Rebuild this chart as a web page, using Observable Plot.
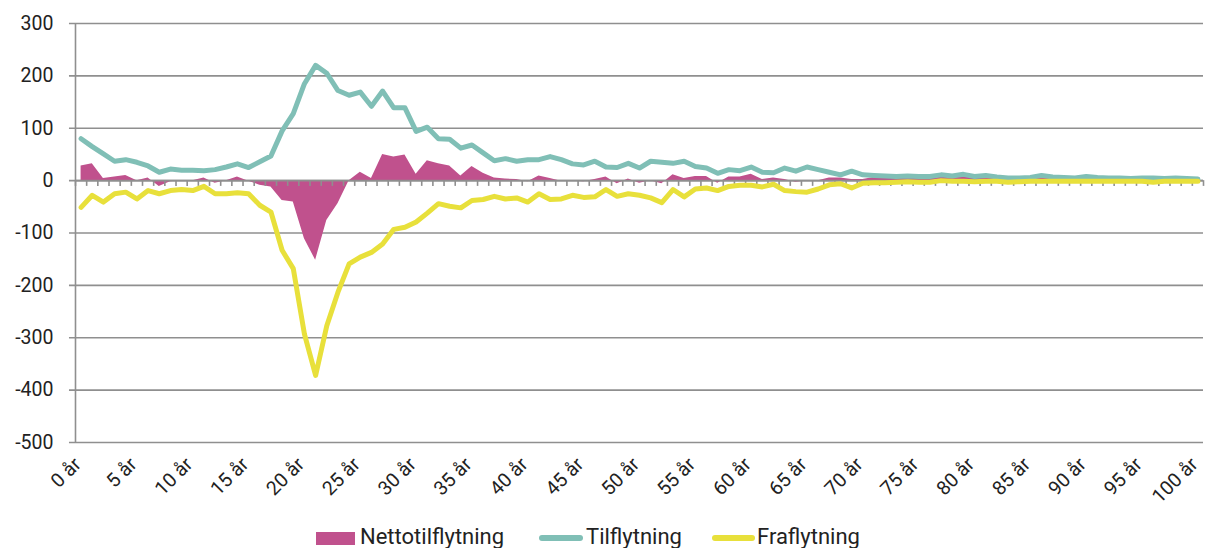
<!DOCTYPE html>
<html>
<head>
<meta charset="utf-8">
<script src="https://cdn.jsdelivr.net/npm/d3@7"></script>
<script src="https://cdn.jsdelivr.net/npm/@observablehq/plot@0.6"></script>
<style>
  html, body { margin: 0; padding: 0; background: white; }
  #wrap { position: relative; width: 1205px; height: 548px; overflow: hidden; font-family: Roboto, sans-serif; color: #222; }
  .lg { position: absolute; font-size: 22px; line-height: 22px; white-space: nowrap; }
  .sw { position: absolute; }
</style>
</head>
<body>
<div id="wrap"></div>
<script>
// Ages (categories)
const ages = [0,1,2,3,4,5,6,7,8,9,10,11,12,13,14,15,16,17,18,19,20,21,22,23,24,25,26,27,28,29,30,31,32,33,34,35,36,37,38,39,40,41,42,43,44,45,46,47,48,49,50,51,52,53,54,55,56,57,58,59,60,61,62,63,64,65,66,67,68,69,70,71,72,73,74,75,76,77,78,79,80,81,82,83,84,85,86,87,88,89,90,91,92,93,94,95,96,97,98,99,100];

// Tilflytning (in-migration)
const tilflytning = [80,65,51,37,40,35,28,16,22,20,20,19,21,26,32,25,36,47,95,128,185,220,205,172,163,169,142,171,139,139,94,102,80,79,62,68,53,38,42,37,40,40,46,40,32,30,37,26,25,33,24,37,35,33,37,27,24,14,21,19,26,16,15,24,18,26,21,16,11,18,11,10,9,8,9,8,8,11,9,12,8,10,7,5,5,6,10,7,6,5,8,6,5,5,4,5,5,4,5,4,3];

// Fraflytning (out-migration)
const fraflytning = [-51,-28,-41,-25,-22,-35,-19,-25,-19,-17,-19,-11,-25,-25,-23,-25,-47,-60,-133,-168,-293,-372,-277,-213,-159,-146,-137,-121,-93,-89,-79,-62,-44,-49,-52,-38,-36,-30,-35,-33,-41,-25,-36,-35,-28,-32,-31,-17,-30,-25,-28,-33,-42,-17,-31,-16,-14,-19,-11,-9,-9,-12,-7,-19,-21,-22,-16,-8,-6,-14,-5,-4,-4,-3,-2,-3,-3,0,-1,-1,-2,-1,-1,-3,-2,-1,-1,-1,-1,-1,-1,-1,-1,-1,-1,-1,-3,-1,-1,-1,-1];

// Nettotilflytning (net)
const netto = [28,32,4,7,10,0,5,-11,-2,0,0,5,-5,0,7,-1,-9,-12,-38,-41,-111,-152,-76,-44,0,16,4,50,45,49,12,38,32,28,9,27,14,5,3,2,-2,9,4,-1,0,-2,2,7,-6,3,-5,0,-6,11,4,8,8,-5,7,7,12,2,5,2,-3,0,0,5,5,2,2,6,5,5,7,5,5,11,8,11,6,9,6,2,3,5,9,6,5,4,7,5,4,4,3,4,2,3,4,3,2];

// Axis ticks
const yTicks = [300,200,100,0,-100,-200,-300,-400,-500];
const xTickValues = [0,5,10,15,20,25,30,35,40,45,50,55,60,65,70,75,80,85,90,95,100];
const xTickLabels = ["0 år","5 år","10 år","15 år","20 år","25 år","30 år","35 år","40 år","45 år","50 år","55 år","60 år","65 år","70 år","75 år","80 år","85 år","90 år","95 år","100 år"];

const seriesNames = ["Nettotilflytning","Tilflytning","Fraflytning"];
const colors = {magenta: "#C0518D", teal: "#80BFB6", yellow: "#E8E03B", grid: "#8f8f8f"};

const rows = ages.map((a, i) => ({age: a, net: netto[i], tin: tilflytning[i], tout: fraflytning[i]}));
const boundaries = ages.map(a => a - 0.5).concat([ages[ages.length - 1] + 0.5]);
const xLabels = xTickValues.map((v, i) => ({v, label: xTickLabels[i]}));

const chart = Plot.plot({
  width: 1205,
  height: 510,
  marginTop: 23,
  marginBottom: 68,
  marginLeft: 75,
  marginRight: 2,
  x: {domain: [-0.5, 100.5], axis: null},
  y: {domain: [-500, 300], axis: null},
  style: {fontFamily: "Roboto, sans-serif", fontSize: "19.5px", color: "#222", background: "white", overflow: "visible"},
  marks: [
    Plot.ruleY(yTicks, {y: d => d, x1: -1.04, x2: 100.5, stroke: colors.grid, strokeWidth: 1.6}),
    Plot.areaY(rows, {x: "age", y: "net", fill: colors.magenta}),
    Plot.ruleX([-0.5], {y1: -500, y2: 300, stroke: colors.grid, strokeWidth: 1.6}),
    Plot.ruleY([0], {x1: -0.5, x2: 100.5, stroke: colors.grid, strokeWidth: 1.8}),
    Plot.ruleX(boundaries, {x: d => d, y1: 0, y2: -11, stroke: colors.grid, strokeWidth: 1.6}),
    Plot.lineY(rows, {x: "age", y: "tin", stroke: colors.teal, strokeWidth: 5}),
    Plot.lineY(rows, {x: "age", y: "tout", stroke: colors.yellow, strokeWidth: 5}),
    Plot.text(yTicks, {x: -0.5, y: d => d, text: d => String(d), textAnchor: "end", dx: -22, fill: "#222"}),
    Plot.text(xLabels, {x: "v", y: -500, text: "label", rotate: -45, textAnchor: "end", lineAnchor: "bottom", dx: 1, dy: 23, fill: "#222", fontSize: 19.5})
  ]
});

const wrap = document.getElementById("wrap");
wrap.appendChild(chart);

// Legend (below the SVG)
function addSwatch(left, top, w, h, color, radius) {
  const s = document.createElement("div");
  s.className = "sw";
  s.style.left = left + "px"; s.style.top = top + "px";
  s.style.width = w + "px"; s.style.height = h + "px";
  s.style.background = color; s.style.borderRadius = radius + "px";
  wrap.appendChild(s);
}
function addLabel(left, text) {
  const t = document.createElement("div");
  t.className = "lg";
  t.style.left = left + "px"; t.style.top = "526px";
  t.textContent = text;
  wrap.appendChild(t);
}
addSwatch(316, 532, 39, 13, colors.magenta, 0);
addLabel(360, seriesNames[0]);
addSwatch(539, 535, 44, 6, colors.teal, 3);
addLabel(586, seriesNames[1]);
addSwatch(712, 535, 43, 6, colors.yellow, 3);
addLabel(757, seriesNames[2]);
</script>
</body>
</html>
